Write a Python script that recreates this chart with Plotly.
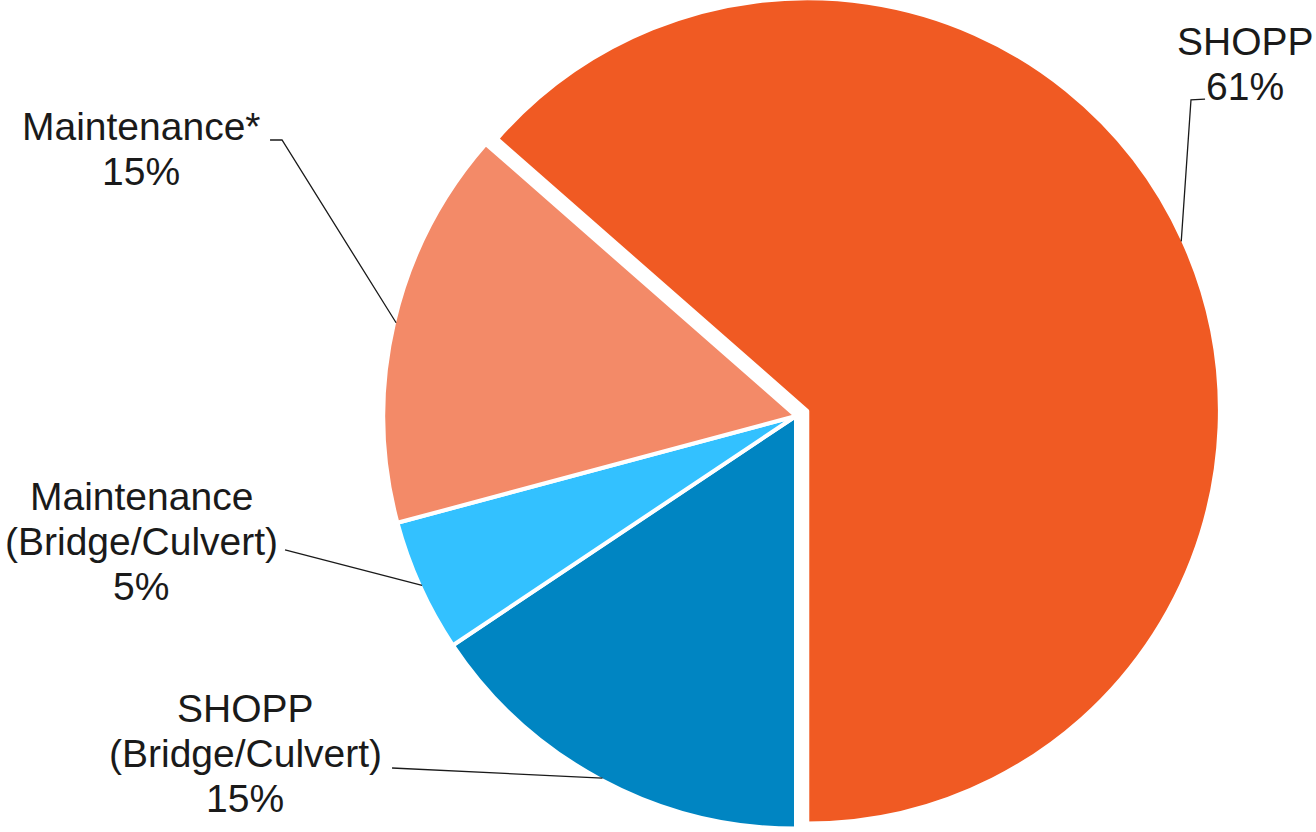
import math
import plotly.graph_objects as go

# ---- data (clockwise from 6 o'clock) ----
categories = ["SHOPP<br>(Bridge/Culvert)", "Maintenance<br>(Bridge/Culvert)", "Maintenance*", "SHOPP"]
values = [15, 5, 15, 61]
pct_labels = ["15%", "5%", "15%", "61%"]
colors = ["#0085C2", "#33C1FF", "#F38A68", "#F05A23"]
pulls = [0, 0, 0, 0.03]

# ---- layout geometry (pixels) ----
W, H = 1316, 850          # figure size (page shows top 832 px after shift)
SHIFT = 9                 # figure shifted up by this many px in the page
cx_px = 796
dom_x = [(cx_px - H / 2) / W, (cx_px + H / 2) / W]
FONT = 39
LINE_H = 45

# label text centers (first line) and leader-line elbows, in page pixels
label_pos = [(245, 708), (141, 496), (141, 126), (1245, 41)]
leader_tail = [
    [(392, 768)],
    [(285, 550)],
    [(282, 140), (270, 140)],
    [(1191, 100), (1205, 99)],
]

fig = go.Figure(go.Pie(
    labels=categories,
    values=values,
    sort=False,
    direction="clockwise",
    rotation=180,
    pull=pulls,
    marker=dict(colors=colors, line=dict(color="white", width=4)),
    textinfo="none",
    hoverinfo="label+percent",
    domain=dict(x=dom_x, y=[0, 1]),
    showlegend=False,
))

# pie geometry as Plotly computes it (page pixels)
maxpull = max(pulls)
r = min(W * (dom_x[1] - dom_x[0]), H) / (2 + 2 * maxpull)
cx = W * (dom_x[0] + dom_x[1]) / 2
cy = H / 2 - SHIFT

def to_paper(px, py):
    return px / W, 1 - (py + SHIFT) / H

total = sum(values)
cum = 0
annotations = []
shapes = []
for i, v in enumerate(values):
    frac = v / total
    mid = 180 + (cum + frac / 2) * 360  # degrees clockwise from 12 o'clock
    cum += frac
    th = math.radians(mid)
    rr = r * (1 + pulls[i]) - 2
    ex, ey = cx + rr * math.sin(th), cy - rr * math.cos(th)
    pts = [(ex, ey)] + leader_tail[i]
    path = "M " + " L ".join("%.4f,%.4f" % to_paper(px, py) for px, py in pts)
    shapes.append(dict(type="path", xref="paper", yref="paper", path=path,
                       line=dict(color="#1a1a1a", width=1.3)))
    lines = categories[i].split("<br>") + [pct_labels[i]]
    lx, ly = label_pos[i]
    for k, t in enumerate(lines):
        px, py = to_paper(lx, ly + k * LINE_H)
        annotations.append(dict(text=t, x=px, y=py, xref="paper", yref="paper",
                                xanchor="center", yanchor="middle", showarrow=False,
                                font=dict(family="Liberation Sans, Arial, sans-serif",
                                          size=FONT, color="#1a1a1a")))

fig.update_layout(
    width=W, height=H,
    margin=dict(l=0, r=0, t=0, b=0),
    paper_bgcolor="white",
    plot_bgcolor="white",
    annotations=annotations,
    shapes=shapes,
)

post = ("document.body.style.margin='0';"
        "document.body.style.overflow='hidden';"
        "document.getElementById('{plot_id}').style.marginTop='-%dpx';" % SHIFT)
fig.write_html("out.html", config={"displayModeBar": False}, post_script=post)
